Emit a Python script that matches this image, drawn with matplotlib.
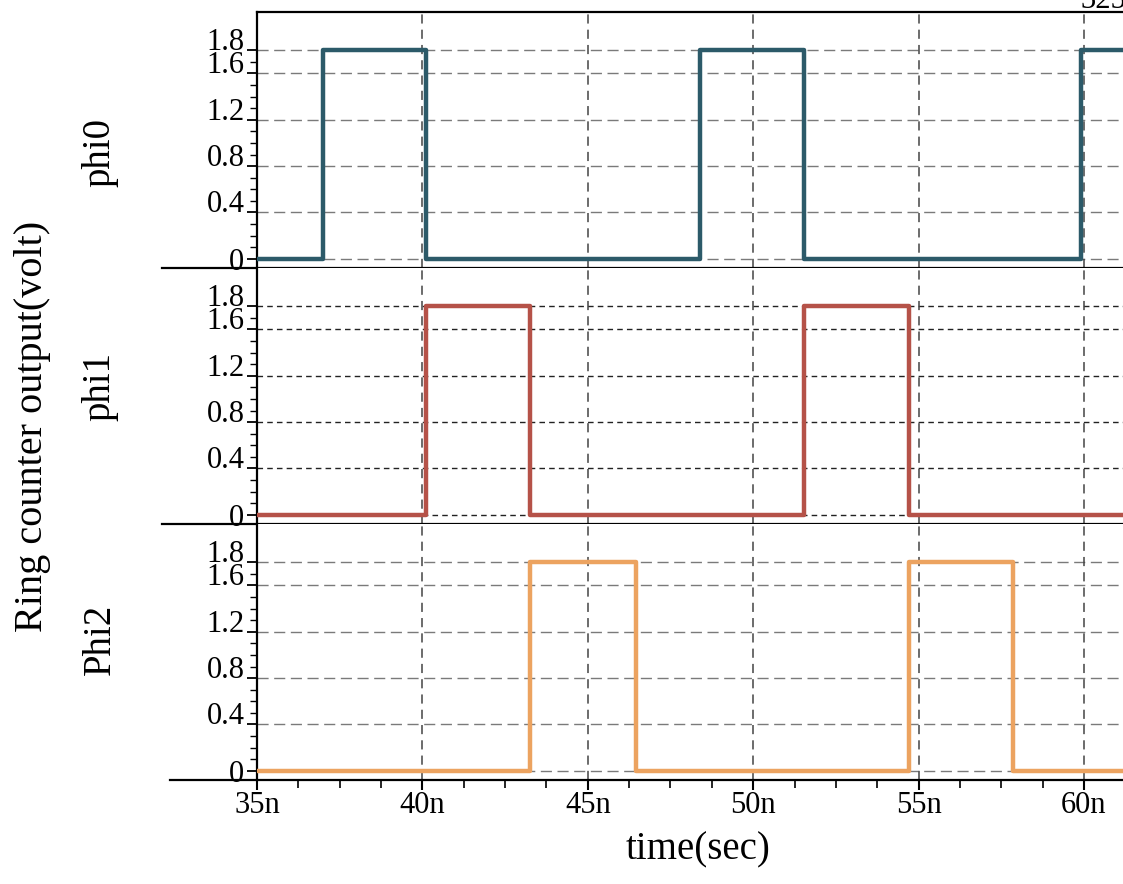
import matplotlib
matplotlib.use('Agg')
import matplotlib.pyplot as plt
from matplotlib.ticker import FixedLocator, MultipleLocator

plt.rcParams['font.family'] = ['Liberation Serif', 'DejaVu Serif']

# ring counter outputs: transition times (ns) and voltage levels (steps-post)
t_phi0 = [35.0, 37.0, 40.1, 48.4, 51.55, 59.9, 61.2]
v_phi0 = [0, 1.8, 0, 1.8, 0, 1.8, 1.8]
t_phi1 = [35.0, 40.1, 43.25, 51.55, 54.7, 61.2]
v_phi1 = [0, 1.8, 0, 1.8, 0, 0]
t_phi2 = [35.0, 43.25, 46.45, 54.7, 57.85, 61.2]
v_phi2 = [0, 1.8, 0, 1.8, 0, 0]

names = ['phi0', 'phi1', 'Phi2']
colors = ['#2c5a69', '#b55248', '#eca360']

y_ticks = [0, 0.4, 0.8, 1.2, 1.6, 1.8]
y_labels = ['0', '0.4', '0.8', '1.2', '1.6', '1.8']
x_ticks = [35, 40, 45, 50, 55, 60]
x_labels = ['35n', '40n', '45n', '50n', '55n', '60n']

fig, axes = plt.subplots(3, 1, figsize=(11.23, 8.84), dpi=100)
fig.subplots_adjust(left=0.2288, right=1.0, top=0.9864, bottom=0.1176, hspace=0)

series = [(t_phi0, v_phi0), (t_phi1, v_phi1), (t_phi2, v_phi2)]
for i, ax in enumerate(axes):
    t, v = series[i]
    ax.set_xlim(35, 61.18)
    ax.set_ylim(-0.08, 2.13)

    # grid
    if i == 1:
        hcol, hdash = '#222222', (4, 3)
    else:
        hcol, hdash = '#7a7a7a', (8, 4)
    for yv in y_ticks:
        ax.axhline(yv, color=hcol, lw=1.0, dashes=hdash, zorder=1)
    for xv in x_ticks[1:]:
        ax.axvline(xv, color='#444444', lw=1.1, dashes=(6, 4), zorder=1)

    ax.step(t, v, where='post', color=colors[i], lw=3.2, zorder=3)

    ax.set_yticks(y_ticks)
    ax.set_yticklabels(y_labels, fontsize=22)
    ax.yaxis.set_minor_locator(FixedLocator([k / 10 for k in range(19)]))
    ax.tick_params(axis='y', which='major', direction='out', length=7, width=1.3, pad=2)
    ax.tick_params(axis='y', which='minor', direction='out', length=5, width=1.0)
    for lab in ax.get_yticklabels():
        if lab.get_text() != '0':
            lab.set_va('baseline')

    ax.spines['right'].set_visible(False)
    ax.spines['left'].set_linewidth(1.6)
    ax.spines['top'].set_linewidth(1.6)
    if i > 0:
        ax.spines['top'].set_visible(False)
    ax.spines['bottom'].set_visible(False)
    ext = -0.11 if i < 2 else -0.10
    ax.plot([ext, 1], [0, 0], transform=ax.transAxes, color='black',
            lw=1.6, clip_on=False, zorder=5)

    if i < 2:
        ax.tick_params(axis='x', which='both', bottom=False, labelbottom=False)
    else:
        ax.set_xticks(x_ticks)
        ax.set_xticklabels(x_labels, fontsize=22)
        ax.xaxis.set_minor_locator(MultipleLocator(1.25))
        ax.tick_params(axis='x', which='major', direction='out', length=7, width=1.5, pad=1)
        ax.tick_params(axis='x', which='minor', direction='out', length=6, width=1.2)

name_y = [0.827, 0.5625, 0.277]
for name, yy in zip(names, name_y):
    fig.text(0.089, yy, name, rotation=90, ha='center', va='center', fontsize=28)

fig.text(0.029, 0.518, 'Ring counter output(volt)', rotation=90,
         ha='center', va='center', fontsize=29)
fig.text(0.6215, 0.0385, 'time(sec)', ha='center', va='center', fontsize=28)
fig.text(0.962, 0.991, '325', ha='left', va='baseline', fontsize=22)

fig.savefig('out.png', dpi=100)
